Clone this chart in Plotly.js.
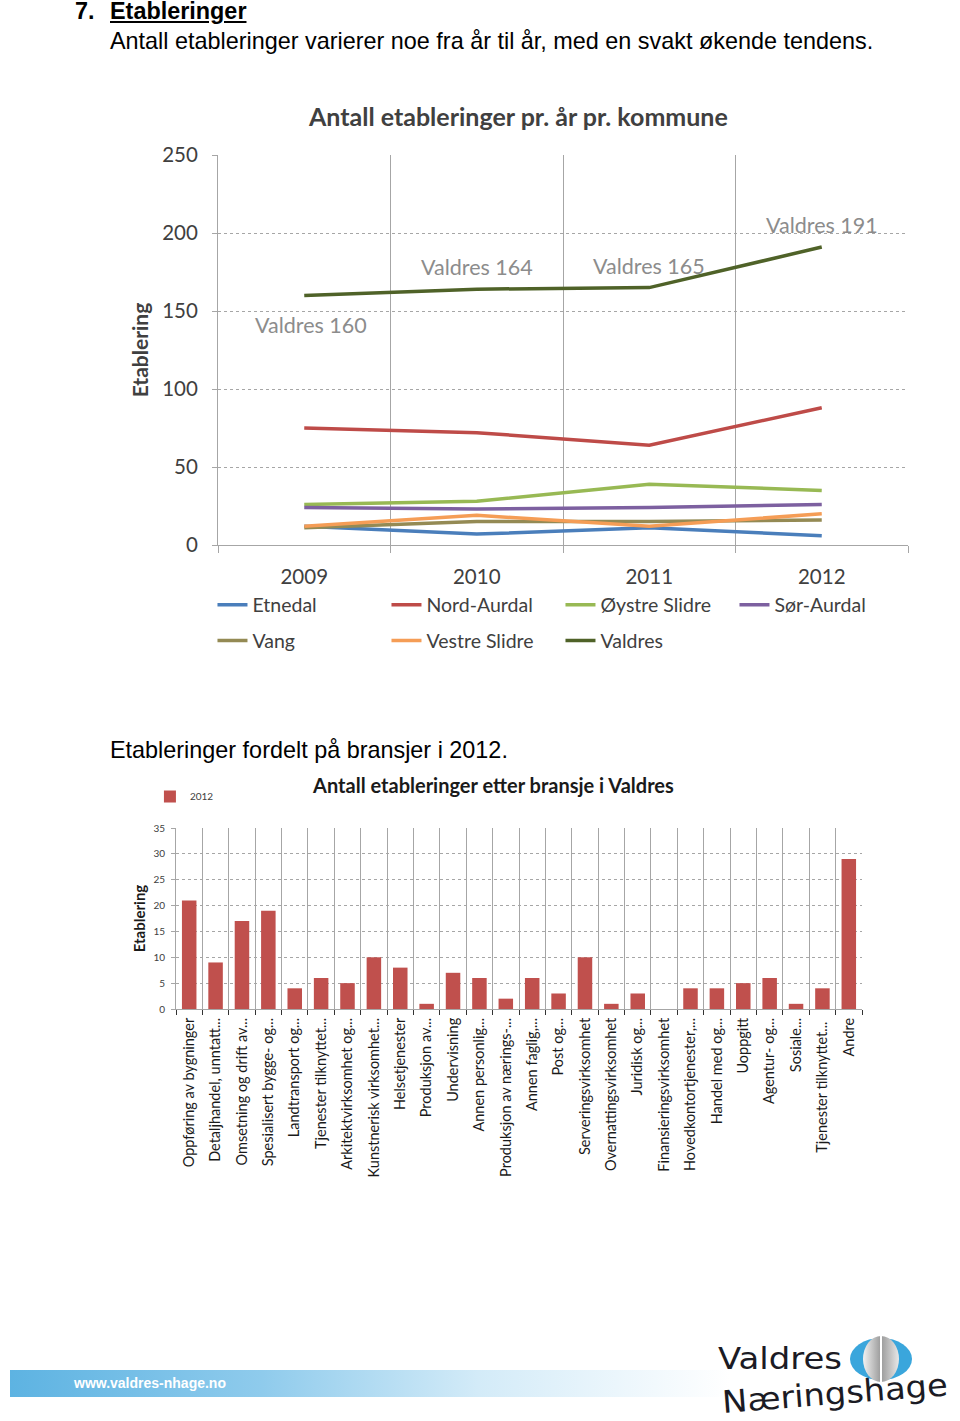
<!DOCTYPE html>
<html><head><meta charset="utf-8">
<script src="https://cdn.plot.ly/plotly-3.0.1.min.js"></script>
<style>
body{margin:0;width:960px;height:1421px;position:relative;background:#fff;font-family:"Liberation Sans",Arial,sans-serif;overflow:hidden;color:#000}
.abs{position:absolute;white-space:nowrap}
</style></head><body>
<div class="abs" style="left:75px;top:0px;font-size:23.4px;font-weight:bold;line-height:23px">7.</div>
<div class="abs" style="left:110px;top:0px;font-size:23.4px;font-weight:bold;text-decoration:underline;line-height:23px">Etableringer</div>
<div class="abs" style="left:110px;top:28px;font-size:23.4px;line-height:27px">Antall etableringer varierer noe fra år til år, med en svakt økende tendens.</div>
<div id="line" class="abs" style="left:0;top:90px;width:960px;height:620px"></div>
<div class="abs" style="left:110px;top:737px;font-size:23.4px;line-height:27px">Etableringer fordelt på bransjer i 2012.</div>
<div id="bar" class="abs" style="left:0;top:770px;width:960px;height:430px"></div>

<div class="abs" style="left:10px;top:1370px;width:720px;height:27px;background:linear-gradient(to right,#5db3e2 0%,#8fcbec 35%,#d3ebf8 65%,#ffffff 100%)"></div>
<div class="abs" style="left:74px;top:1374px;font-size:14px;font-weight:bold;color:#fff;line-height:18px">www.valdres-nhage.no</div>
<svg class="abs" style="left:700px;top:1325px;overflow:visible" width="260" height="96">
  <defs>
    <linearGradient id="gm" x1="0" x2="1" y1="0" y2="0">
      <stop offset="0" stop-color="#f2f2f2"/><stop offset="0.5" stop-color="#9a9a9a"/><stop offset="1" stop-color="#e8e8e8"/>
    </linearGradient>
  </defs>
  <text x="18" y="44" font-family="DejaVu Sans" font-size="31" fill="#1b1b24" textLength="124" lengthAdjust="spacingAndGlyphs">Valdres</text>
  <ellipse cx="181" cy="34" rx="31" ry="21" fill="#3aa6dc"/>
  <ellipse cx="181" cy="34" rx="18" ry="23" fill="url(#gm)"/>
  <line x1="181" y1="11" x2="181" y2="57" stroke="#ffffff" stroke-width="2"/>
  <text x="23" y="88" font-family="DejaVu Sans" font-size="31" fill="#1b1b24" transform="rotate(-4.5 23 88)" textLength="226" lengthAdjust="spacingAndGlyphs">Næringshage</text>
</svg>

<script>
// ---- Line chart data ----
const years = ['2009', '2010', '2011', '2012'];
const etnedal = [12, 7, 11, 6];
const nordAurdal = [75, 72, 64, 88];
const oystreSlidre = [26, 28, 39, 35];
const sorAurdal = [24, 23, 24, 26];
const vang = [11, 15, 15, 16];
const vestreSlidre = [12, 19, 12, 20];
const valdres = [160, 164, 165, 191];
const seriesNames = ['Etnedal', 'Nord-Aurdal', 'Øystre Slidre', 'Sør-Aurdal', 'Vang', 'Vestre Slidre', 'Valdres'];

// ---- Bar chart data ----
const branches = ['Oppføring av bygninger', 'Detaljhandel, unntatt...', 'Omsetning og drift av...',
  'Spesialisert bygge- og...', 'Landtransport og...', 'Tjenester tilknyttet...', 'Arkitektvirksomhet og...',
  'Kunstnerisk virksomhet...', 'Helsetjenester', 'Produksjon av...', 'Undervisning', 'Annen personlig...',
  'Produksjon av nærings-...', 'Annen faglig,...', 'Post og...', 'Serveringsvirksomhet',
  'Overnattingsvirksomhet', 'Juridisk og...', 'Finansieringsvirksomhet', 'Hovedkontortjenester,...',
  'Handel med og...', 'Uoppgitt', 'Agentur- og...', 'Sosiale...', 'Tjenester tilknyttet... ', 'Andre'];
const etab2012 = [21, 9, 17, 19, 4, 6, 5, 10, 8, 1, 7, 6, 2, 6, 3, 10, 1, 3, 0, 4, 4, 5, 6, 1, 4, 29];

const FONT = 'Lato, "Noto Sans", sans-serif';
const colors = ['#4a7ebb', '#be4b48', '#98b954', '#7d60a0', '#948a54', '#f59d56', '#4f6228'];
const allSeries = [etnedal, nordAurdal, oystreSlidre, sorAurdal, vang, vestreSlidre, valdres];

const lineTraces = allSeries.map((vals, i) => ({
  x: years, y: vals, type: 'scatter', mode: 'lines', name: seriesNames[i],
  line: {color: colors[i], width: 3.5},
  legend: i < 4 ? 'legend' : 'legend2', hoverinfo: 'skip'
}));

const grid = '#a6a6a6';
const valdresAnn = valdres.map((v, i) => ({
  x: i, y: v, xref: 'x', yref: 'y', text: 'Valdres ' + v, showarrow: false,
  xanchor: 'center', yanchor: 'middle',
  yshift: i === 0 ? -30 : 22, xshift: i === 0 ? 7 : 0,
  font: {family: FONT, size: 21.5, color: '#8c8c8c'}
}));

const legendBase = {orientation: 'h', xref: 'paper', yref: 'paper', x: -0.008, xanchor: 'left', yanchor: 'middle',
  entrywidth: 129, entrywidthmode: 'pixels', font: {family: FONT, size: 19.5, color: '#404040'},
  bgcolor: 'rgba(0,0,0,0)', tracegroupgap: 0};

Plotly.newPlot('line', lineTraces, {
  width: 960, height: 620,
  margin: {l: 218, r: 52, t: 65, b: 165},
  paper_bgcolor: '#fff', plot_bgcolor: '#fff',
  font: {family: FONT, color: '#404040'},
  title: {text: '<b>Antall etableringer pr. år pr. kommune</b>', x: 0.54, xanchor: 'center', y: 1 - 27 / 620, yanchor: 'middle',
    font: {family: FONT, size: 25, color: '#404040'}},
  xaxis: {type: 'category', range: [-0.5, 3.5], tickson: 'boundaries', showgrid: true, gridcolor: grid, gridwidth: 1,
    ticks: 'outside', ticklen: 7, tickcolor: grid, showline: true, linecolor: grid, linewidth: 1,
    tickfont: {family: FONT, size: 20.5, color: '#404040'}, ticklabelstandoff: 13, fixedrange: true},
  yaxis: {range: [0, 250], dtick: 50, showgrid: true, gridcolor: grid, griddash: 'dot', zeroline: false,
    ticks: 'outside', ticklen: 5, tickcolor: grid, showline: true, linecolor: grid,
    tickfont: {family: FONT, size: 20.5, color: '#404040'}, ticklabelstandoff: 10,
    title: {text: '<b>Etablering</b>', font: {family: FONT, size: 21, color: '#404040'}, standoff: 7}},
  legend: Object.assign({}, legendBase, {y: -0.154}),
  legend2: Object.assign({}, legendBase, {y: -0.246}),
  showlegend: true,
  annotations: valdresAnn
}, {displayModeBar: false, staticPlot: true});

Plotly.newPlot('bar', [{
  type: 'bar', x: branches, y: etab2012, name: '2012', marker: {color: '#c0504d'}, hoverinfo: 'skip'
}], {
  width: 960, height: 430,
  margin: {l: 176, r: 98, t: 55, b: 191},
  paper_bgcolor: '#fff', plot_bgcolor: '#fff',
  font: {family: FONT, color: '#404040'},
  bargap: 0.45,
  title: {text: '<b>Antall etableringer etter bransje i Valdres</b>', x: 0.514, xanchor: 'center', y: 0.963, yanchor: 'middle',
    font: {family: FONT, size: 20, color: '#1a1a1a'}},
  xaxis: {type: 'category', range: [-0.5, 25.5], tickson: 'boundaries', showgrid: true, gridcolor: grid,
    ticks: 'outside', ticklen: 5, tickcolor: '#333', showline: true, linecolor: grid, tickangle: -90,
    tickfont: {family: FONT, size: 14.5, color: '#1a1a1a'}, ticklabelstandoff: 2},
  yaxis: {range: [0, 35], dtick: 5, showgrid: true, gridcolor: grid, griddash: 'dot', zeroline: false,
    ticks: 'outside', ticklen: 4, tickcolor: grid, showline: true, linecolor: grid,
    tickfont: {family: FONT, size: 10, color: '#404040'}, ticklabelstandoff: 4,
    title: {text: '<b>Etablering</b>', font: {family: FONT, size: 15, color: '#1a1a1a'}, standoff: 4}},
  showlegend: true,
  legend: {x: -0.038, xanchor: 'left', y: 1.174, yanchor: 'middle', font: {family: FONT, size: 10, color: '#404040'},
    itemwidth: 30, bgcolor: 'rgba(0,0,0,0)'}
}, {displayModeBar: false, staticPlot: true});
</script>
</body></html>
